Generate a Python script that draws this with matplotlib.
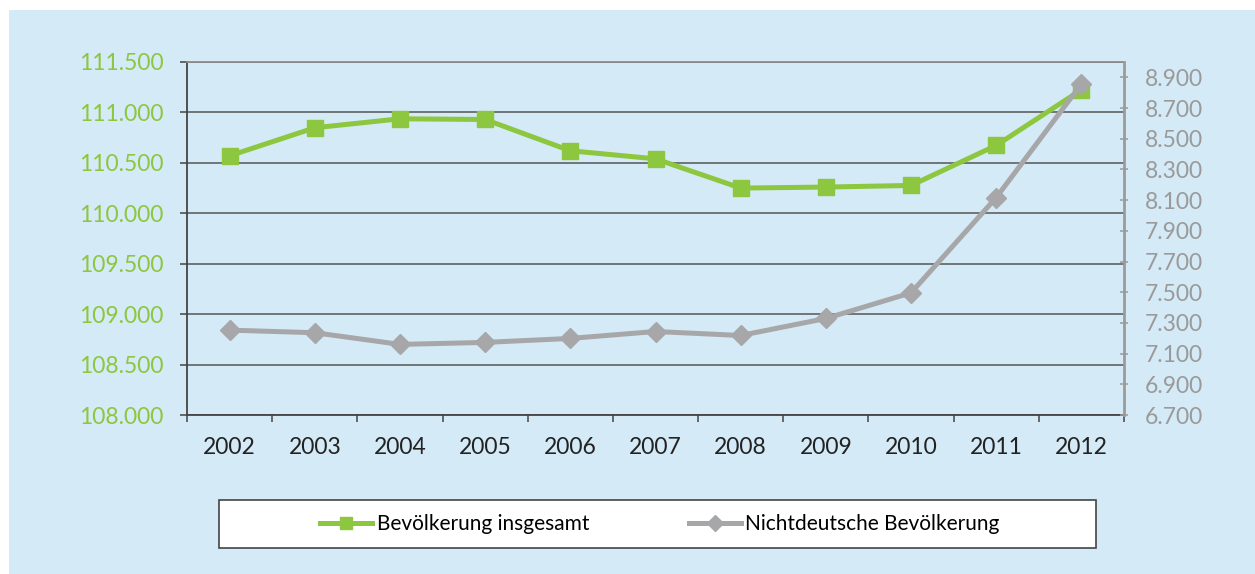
import matplotlib
matplotlib.use("Agg")
import matplotlib.pyplot as plt
from matplotlib.patches import Rectangle
from matplotlib.ticker import FuncFormatter, FixedLocator, MultipleLocator

plt.rcParams['font.family'] = ['Lato', 'DejaVu Sans']

# Daten
jahre = ['2002', '2003', '2004', '2005', '2006', '2007', '2008', '2009', '2010', '2011', '2012']
insgesamt = [110570, 110848, 110937, 110930, 110620, 110540, 110250, 110260, 110276, 110673, 111225]
nichtdeutsch = [7253, 7236, 7160, 7173, 7199, 7244, 7218, 7329, 7496, 8117, 8857]

gruen = '#8dc63f'
grau = '#a7a7a9'
hintergrund = '#d4eaf6'


def tausender(v, pos):
    return f"{int(round(v)):,}".replace(",", ".")


fig = plt.figure(figsize=(12.55, 5.74), dpi=100, facecolor='white')

# hellblaues Feld
fig.patches.append(Rectangle((9 / 1255, 0), 1 - 9 / 1255, 1 - 10 / 574,
                             transform=fig.transFigure, facecolor=hintergrund,
                             edgecolor='none', zorder=-10))

ax = fig.add_axes([187 / 1255, 1 - 415 / 574, (1124 - 187) / 1255, (415 - 62) / 574])
ax.patch.set_visible(False)
x = list(range(len(jahre)))

ax.set_xlim(-0.5, len(jahre) - 0.5)
ax.set_ylim(108000, 111500)
ax.yaxis.set_major_locator(MultipleLocator(500))
ax.yaxis.set_major_formatter(FuncFormatter(tausender))
ax.grid(axis='y', color='#555555', linewidth=1.1)
ax.set_axisbelow(True)

ax.set_xticks(x)
ax.set_xticklabels(jahre)
ax.xaxis.set_minor_locator(FixedLocator([i - 0.5 for i in range(len(jahre) + 1)]))
ax.tick_params(axis='x', which='major', length=0, pad=16, labelsize=16.5, labelcolor='#222222')
ax.tick_params(axis='x', which='minor', length=5, width=1.1, color='#444444', direction='out')
ax.tick_params(axis='y', length=5, width=1.1, color='#444444', direction='out',
               pad=12, labelsize=16.5, labelcolor=gruen)

ax.spines['left'].set_color('#444444')
ax.spines['bottom'].set_color('#444444')
ax.spines['top'].set_color('#8c8c8c')
ax.spines['right'].set_visible(False)
for s in ['left', 'bottom', 'top']:
    ax.spines[s].set_linewidth(1.3)

ax2 = ax.twinx()
ax2.patch.set_visible(False)
ax2.set_ylim(6700, 9000)
ax2.set_yticks(range(6700, 9000, 200))
ax2.yaxis.set_major_formatter(FuncFormatter(tausender))
ax2.tick_params(axis='y', length=6, width=1.1, color='#9a9a9a', direction='inout',
                pad=12, labelsize=16.5, labelcolor='#9a9a9a')
ax2.spines['right'].set_color('#9a9a9a')
ax2.spines['right'].set_linewidth(2)
for s in ['left', 'bottom', 'top']:
    ax2.spines[s].set_visible(False)

l1, = ax.plot(x, insgesamt, color=gruen, linewidth=3.6, marker='s', markersize=11.5,
              label='Bevölkerung insgesamt', zorder=3)
l2, = ax2.plot(x, nichtdeutsch, color=grau, linewidth=3.6, marker='D', markersize=10.5,
               label='Nichtdeutsche Bevölkerung', zorder=3)

# Legende
fig.patches.append(Rectangle((219 / 1255, 1 - 548 / 574), (1096 - 219) / 1255, 48 / 574,
                             transform=fig.transFigure, facecolor='white',
                             edgecolor='#444444', linewidth=1.2, zorder=1))
fig.legend(handles=[l1, l2], loc='center', bbox_to_anchor=(660 / 1255, 1 - 524 / 574),
           ncol=2, frameon=False, fontsize=15, handlelength=2.5, handletextpad=0.2,
           columnspacing=4.8, markerscale=0.8)

fig.savefig('out.png', dpi=100, facecolor='white')
